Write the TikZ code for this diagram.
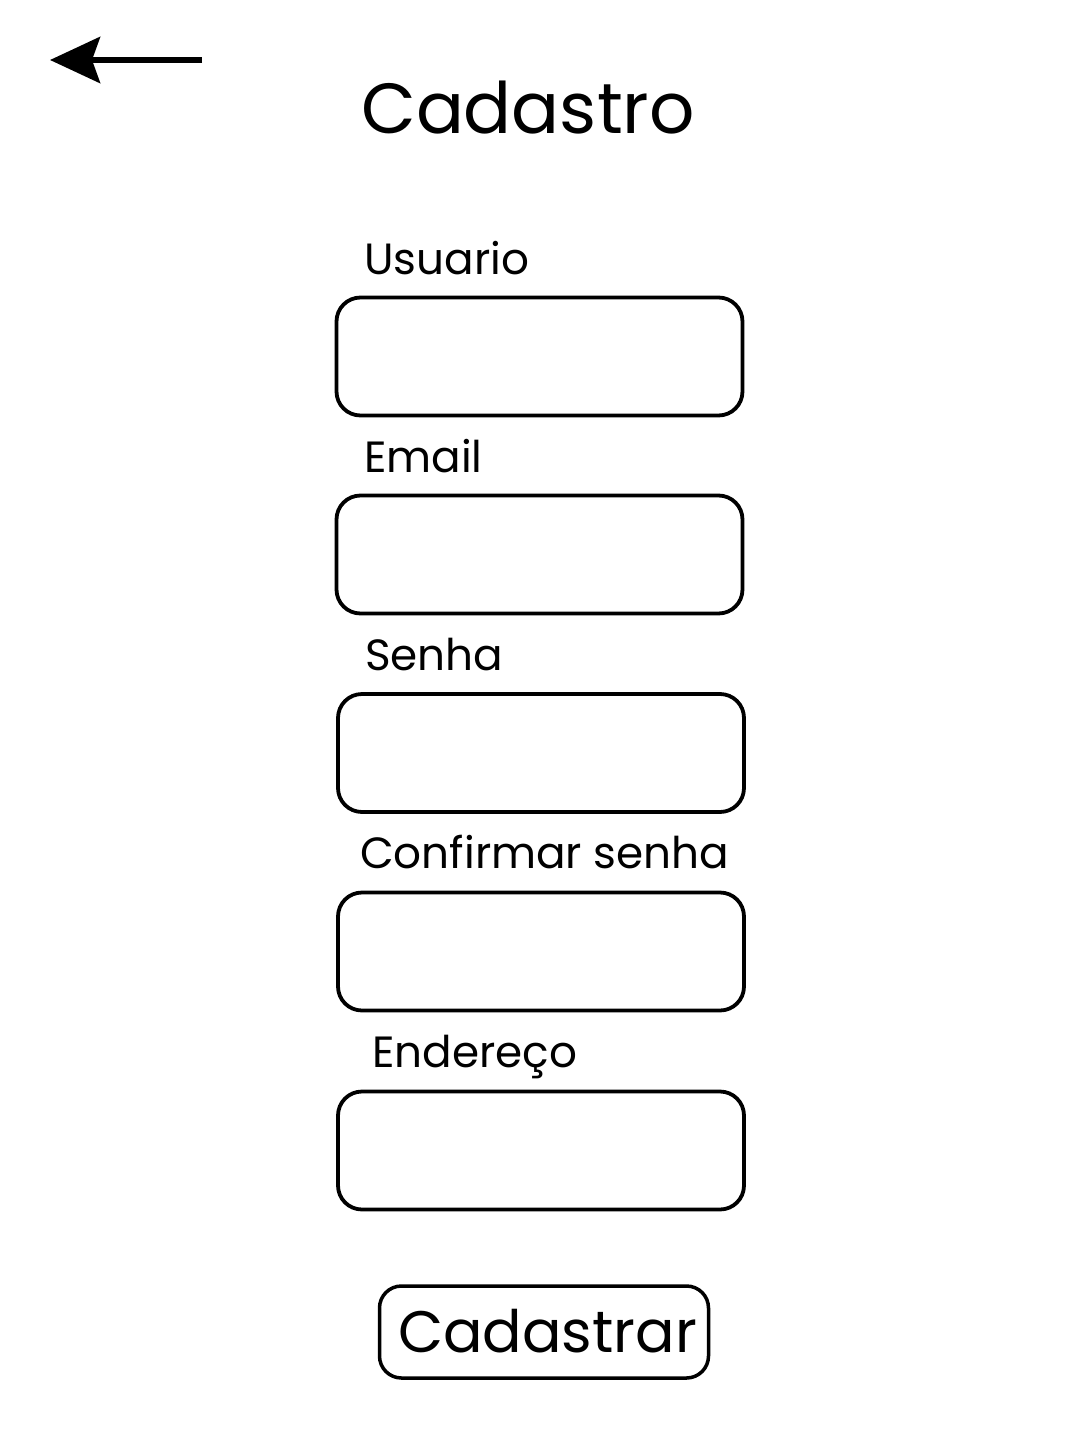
\documentclass[tikz,border=0pt]{standalone}
\usepackage{fontspec}
\setmainfont{Poppins}
\usetikzlibrary{arrows.meta}
\tikzset{
  field/.style={draw, line width=3.8pt, rounded corners=24pt, minimum width=406pt, minimum height=118pt, inner sep=0pt},
  lbl/.style={anchor=base west, inner sep=0pt, font=\fontsize{43.7}{48}\selectfont},
  btn/.style={draw, line width=3.5pt, rounded corners=22pt, minimum width=329pt, minimum height=92pt, inner sep=0pt},
}
\begin{document}
\begin{tikzpicture}[x=1pt,y=-1pt]
\useasboundingbox (0,0) rectangle (1080,1440);
\coordinate (as) at (202,60);
\coordinate (ae) at (50,60);
\draw[line width=6pt, -{Stealth[length=50pt,width=46pt,inset=8pt]}] (as) -- (ae);
\node[anchor=base, inner sep=0pt, font=\fontsize{71}{76}\selectfont] (title) at (528,133) {Cadastro};
\node[lbl] (l1) at (364,274) {Usuario};
\node[field] (f1) at (539.5,356.5) {};
\node[lbl] (l2) at (364,472) {Email};
\node[field] (f2) at (539.5,554.5) {};
\node[lbl] (l3) at (365,670) {Senha};
\node[field] (f3) at (541,753) {};
\node[lbl] (l4) at (360,868) {Confirmar senha};
\node[field] (f4) at (541,951.5) {};
\node[lbl] (l5) at (372,1067) {Endereço};
\node[field] (f5) at (541,1150.5) {};
\node[btn] (b) at (544,1332) {};
\node[anchor=base, inner sep=0pt, font=\fontsize{58.5}{64}\selectfont] (bt) at (547.5,1352) {Cadastrar};
\end{tikzpicture}
\end{document}
